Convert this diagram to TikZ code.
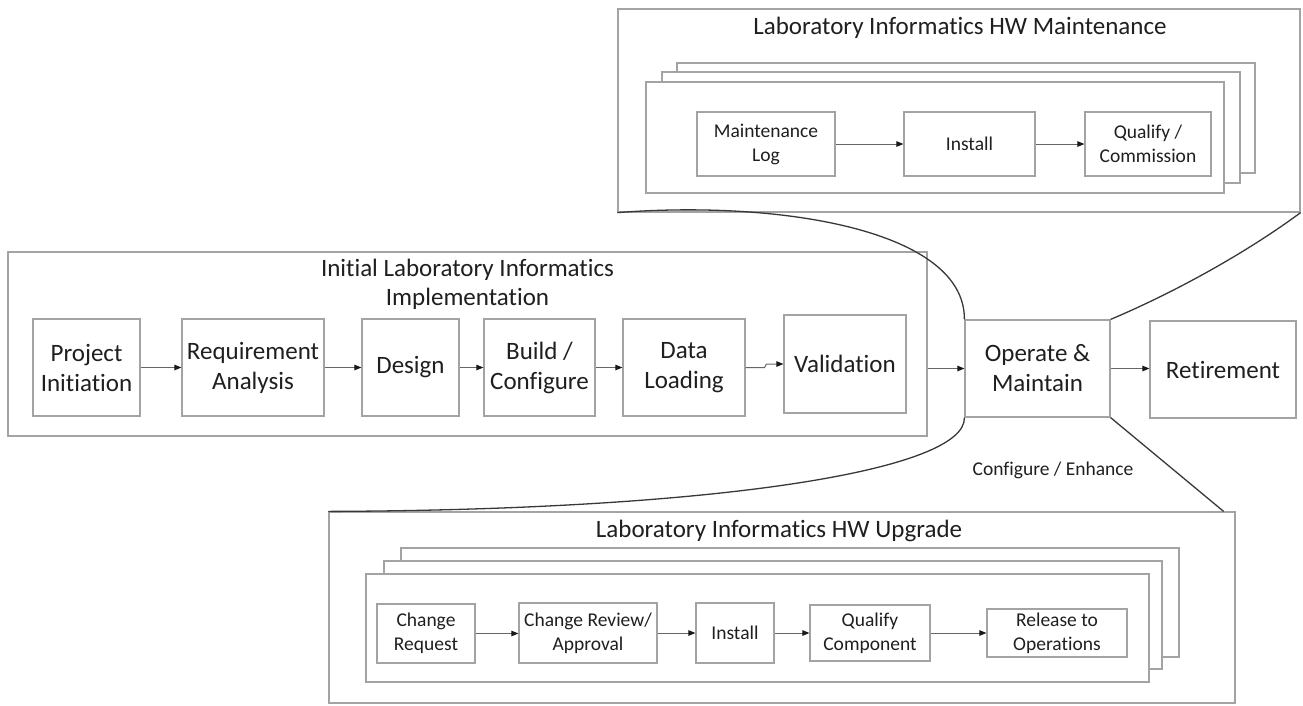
\documentclass[tikz,border=0pt]{standalone}
\usepackage{fontspec}
\setmainfont{Carlito}[Ligatures=CommonOff]
\usetikzlibrary{arrows.meta}

\tikzset{
  frame/.style={draw=black!36, line width=1.2pt, fill=white, inner sep=0pt},
  stage/.style={draw=black!36, line width=1.2pt, fill=white, inner sep=0pt,
    align=center, text=black!88, font=\fontsize{25}{30}\selectfont},
  substage/.style={stage, font=\fontsize{19.5}{24}\selectfont},
  heading/.style={align=center, text=black!88, font=\fontsize{25}{29}\selectfont},
  flow/.style={draw=black!60, line width=1pt,
    -{Triangle[length=7pt,width=5.5pt,color=black!90,fill=black!90]}},
  link/.style={draw=black!78, line width=1.3pt},
}

\begin{document}
\begin{tikzpicture}[x=1pt,y=-1pt]
\useasboundingbox (0,0) rectangle (1303,705);

% ---- hardware maintenance cycle (top) ----
\node[frame, minimum width=682pt, minimum height=203pt] (maint) at (959,110.5) {};
\node[heading] (mtitle) at (960,28) {Laboratory Informatics HW Maintenance};
\node[frame, minimum width=578pt, minimum height=110pt] (ms3) at (966,118) {};
\node[frame, minimum width=578pt, minimum height=111pt] (ms2) at (951,127.5) {};
\node[frame, minimum width=578pt, minimum height=111pt] (ms1) at (935,137.5) {};
\node[substage, minimum width=138pt, minimum height=64pt] (mlog) at (766,144) {Maintenance\\Log};
\node[substage, minimum width=131pt, minimum height=64pt] (minst) at (969.5,144) {Install};
\node[substage, minimum width=126pt, minimum height=64pt] (mqual) at (1148,144) {Qualify /\\Commission};
\draw[flow] (mlog) -- (minst);
\draw[flow] (minst) -- (mqual);

% ---- initial implementation ----
\node[frame, minimum width=919pt, minimum height=184pt] (impl) at (467.5,344) {};
\node[heading] (ititle) at (467.5,284) {Initial Laboratory Informatics\\Implementation};
\node[stage, minimum width=107pt, minimum height=97pt] (pi) at (86.5,367.5) {Project\\Initiation};
\node[stage, minimum width=142pt, minimum height=97pt] (ra) at (253,367.5) {Requirement\\Analysis};
\node[stage, minimum width=97pt, minimum height=97pt] (de) at (410.5,367.5) {Design};
\node[stage, minimum width=111pt, minimum height=97pt] (bc) at (539.5,367.5) {Build /\\Configure};
\node[stage, minimum width=122pt, minimum height=97pt] (dl) at (684,367.5) {Data\\Loading};
\node[stage, minimum width=122pt, minimum height=98pt] (va) at (845,364) {Validation};
\draw[flow] (pi) -- (ra);
\draw[flow] (ra) -- (de);
\draw[flow] (de) -- (bc);
\draw[flow] (bc) -- (dl);
\draw[flow] (dl.east) -- ++(19,0) -- ([xshift=-17pt]va.west) -- (va.west);

% ---- operation and retirement ----
\node[stage, minimum width=145pt, minimum height=97pt] (op) at (1037.5,368.5) {Operate \&\\Maintain};
\node[stage, minimum width=146pt, minimum height=97pt] (re) at (1223,369.5) {Retirement};
\draw[flow] (op.west -| impl.east) -- (op.west);
\draw[flow] (op.east) -- (op.east -| re.west);

% ---- hardware upgrade cycle (bottom) ----
\node[frame, minimum width=906pt, minimum height=191pt] (upg) at (782,607.5) {};
\node[heading] (utitle) at (779,531) {Laboratory Informatics HW Upgrade};
\node[frame, minimum width=778pt, minimum height=109pt] (us3) at (790,602.5) {};
\node[frame, minimum width=778pt, minimum height=108pt] (us2) at (773,615) {};
\node[frame, minimum width=783pt, minimum height=108pt] (us1) at (757.5,628) {};
\node[substage, minimum width=98pt, minimum height=59pt] (cr) at (426,633.5) {Change\\Request};
\node[substage, minimum width=138pt, minimum height=60pt] (cra) at (588,633) {Change Review/\\Approval};
\node[substage, minimum width=78pt, minimum height=60pt] (uin) at (735,633) {Install};
\node[substage, minimum width=120pt, minimum height=56pt] (qc) at (870,633) {Qualify\\Component};
\node[substage, minimum width=140pt, minimum height=48pt] (ro) at (1057,633) {Release to\\Operations};
\draw[flow] (cr.east) -- (cr.east -| cra.west);
\draw[flow] (cra.east) -- (cra.east -| uin.west);
\draw[flow] (uin.east) -- (uin.east -| qc.west);
\draw[flow] (qc.east) -- (qc.east -| ro.west);

\node[text=black!88, font=\fontsize{19.5}{24}\selectfont] (cfg) at (1053,470) {Configure / Enhance};

% ---- zoom-out connectors ----
\coordinate (uend) at ([xshift=-12pt]upg.north east);
\draw[link] (maint.south west) .. controls (780,200) and (965,230) .. (op.north west);
\draw[link] (op.north east) .. controls (1180,290) and (1250,250) .. (maint.south east);
\draw[link] (op.south west) .. controls (966,470) and (720,510) .. (upg.north west);
\draw[link] (op.south east) -- (uend);
\end{tikzpicture}
\end{document}
